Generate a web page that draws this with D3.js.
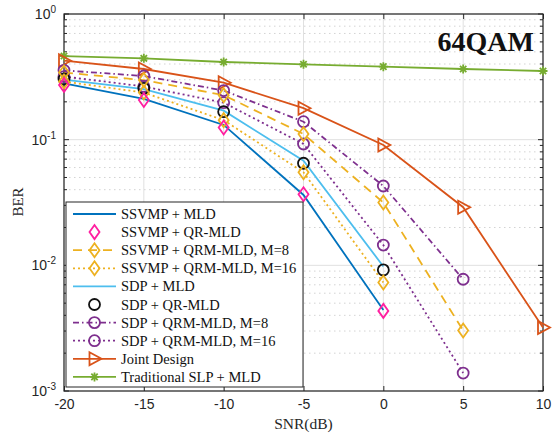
<!DOCTYPE html>
<html><head><meta charset="utf-8">
<script src="https://cdn.jsdelivr.net/npm/d3@7"></script>
<style>body{margin:0;background:#fff}svg{display:block}</style>
</head><body><svg id="c" width="556" height="434"></svg>
<script>
const snr = [-20, -15, -10, -5, 0, 5, 10];
const ssvmpMLD   = [0.280, 0.211, 0.131, 0.0363, 0.00442];
const ssvmpQR    = [0.272, 0.207, 0.125, 0.0368, 0.00434];
const ssvmpQRM8  = [0.342, 0.298, 0.226, 0.111, 0.0316, 0.00303];
const ssvmpQRM16 = [0.290, 0.237, 0.143, 0.055, 0.0073];
const sdpMLD     = [0.300, 0.252, 0.170, 0.068, 0.0098];
const sdpQR      = [0.304, 0.256, 0.167, 0.0649, 0.0092];
const sdpQRM8    = [0.356, 0.321, 0.246, 0.139, 0.0428, 0.00775];
const sdpQRM16   = [0.318, 0.265, 0.197, 0.0924, 0.0145, 0.00139];
const joint      = [0.425, 0.365, 0.284, 0.178, 0.0907, 0.029, 0.0032];
const tradSLP    = [0.463, 0.444, 0.415, 0.398, 0.381, 0.365, 0.352];
const xTicks = [-20, -15, -10, -5, 0, 5, 10];
const yTickExp = [0, -1, -2, -3];

const series = [
  {name:"SSVMP + MLD", data:ssvmpMLD, color:"#0072BD", dash:null, marker:null, line:true},
  {name:"SSVMP + QR-MLD", data:ssvmpQR, color:"#FF1FA0", dash:null, marker:"diamond", line:false},
  {name:"SSVMP + QRM-MLD, M=8", data:ssvmpQRM8, color:"#EDB120", dash:"9,6", marker:"diamond", line:true},
  {name:"SSVMP + QRM-MLD, M=16", data:ssvmpQRM16, color:"#EDB120", dash:"2,3", marker:"diamond", line:true},
  {name:"SDP + MLD", data:sdpMLD, color:"#4DBEEE", dash:null, marker:null, line:true},
  {name:"SDP + QR-MLD", data:sdpQR, color:"#111111", dash:null, marker:"circle", line:false},
  {name:"SDP + QRM-MLD, M=8", data:sdpQRM8, color:"#7E2F8E", dash:"6,3,1.5,3", marker:"circle", line:true},
  {name:"SDP + QRM-MLD, M=16", data:sdpQRM16, color:"#7E2F8E", dash:"2,3", marker:"circle", line:true},
  {name:"Joint Design", data:joint, color:"#D95319", dash:null, marker:"triangle", line:true},
  {name:"Traditional SLP + MLD", data:tradSLP, color:"#77AC30", dash:null, marker:"star", line:true}
];

const svg = d3.select("#c");
const L = 64, R = 543, T = 14, B = 391;
const x = d3.scaleLinear().domain([-20, 10]).range([L, R]);
const y = d3.scaleLog().domain([1e-3, 1]).range([B, T]);

// grid
const g = svg.append("g");
for (let e = -3; e < 0; e++) {
  for (let m = 2; m <= 9; m++) {
    const v = m * Math.pow(10, e);
    g.append("line").attr("x1", L).attr("x2", R).attr("y1", y(v)).attr("y2", y(v))
      .attr("stroke", "#c8c8c8").attr("stroke-width", 0.8).attr("stroke-dasharray", "1.5,3.5");
  }
}
yTickExp.forEach(e => {
  g.append("line").attr("x1", L).attr("x2", R).attr("y1", y(Math.pow(10, e))).attr("y2", y(Math.pow(10, e)))
    .attr("stroke", "#e0e0e0").attr("stroke-width", 1);
});
xTicks.forEach(t => {
  g.append("line").attr("x1", x(t)).attr("x2", x(t)).attr("y1", T).attr("y2", B)
    .attr("stroke", "#e0e0e0").attr("stroke-width", 1);
});

// axes
const xAxis = d3.axisBottom(x).tickValues(xTicks).tickSize(-5).tickPadding(8).tickFormat(d => d);
const ax = svg.append("g").attr("transform", `translate(0,${B})`).call(xAxis);
ax.select(".domain").remove();
ax.selectAll("line").attr("stroke", "#262626");
ax.selectAll("text").attr("font-family", "Liberation Sans, Arial, sans-serif").attr("font-size", 14).attr("fill", "#262626");
const xTop = svg.append("g").attr("transform", `translate(0,${T})`).call(d3.axisTop(x).tickValues(xTicks).tickSize(-5).tickFormat(""));
xTop.select(".domain").remove();
xTop.selectAll("line").attr("stroke", "#262626");

const minorVals = [];
for (let e = -3; e < 0; e++) for (let m = 2; m <= 9; m++) minorVals.push(m * Math.pow(10, e));
[[L, 1], [R, -1]].forEach(([px, dir]) => {
  yTickExp.forEach(e => {
    svg.append("line").attr("x1", px).attr("x2", px + dir * 5).attr("y1", y(Math.pow(10, e))).attr("y2", y(Math.pow(10, e))).attr("stroke", "#262626");
  });
  minorVals.forEach(v => {
    svg.append("line").attr("x1", px).attr("x2", px + dir * 3).attr("y1", y(v)).attr("y2", y(v)).attr("stroke", "#262626");
  });
});
yTickExp.forEach(e => {
  const t = svg.append("text").attr("x", L - 8).attr("y", y(Math.pow(10, e)) + 5)
    .attr("text-anchor", "end").attr("font-family", "Liberation Sans, Arial, sans-serif")
    .attr("font-size", 14).attr("fill", "#262626");
  t.append("tspan").text("10");
  t.append("tspan").attr("dy", -6).attr("font-size", 10).text(e);
});
svg.append("rect").attr("x", L).attr("y", T).attr("width", R - L).attr("height", B - T)
  .attr("fill", "none").attr("stroke", "#262626").attr("stroke-width", 1.2);

// markers
function drawMarker(sel, type, color, cx, cy) {
  if (type === "diamond") {
    sel.append("path").attr("d", `M${cx},${cy-7}L${cx+5},${cy}L${cx},${cy+7}L${cx-5},${cy}Z`)
      .attr("fill", "none").attr("stroke", color).attr("stroke-width", 1.8);
  } else if (type === "circle") {
    sel.append("circle").attr("cx", cx).attr("cy", cy).attr("r", 5.5)
      .attr("fill", "none").attr("stroke", color).attr("stroke-width", 1.8);
  } else if (type === "triangle") {
    sel.append("path").attr("d", `M${cx-5},${cy-6.5}L${cx+7},${cy}L${cx-5},${cy+6.5}Z`)
      .attr("fill", "none").attr("stroke", color).attr("stroke-width", 1.8);
  } else if (type === "star") {
    const r = 4.5;
    let d = "";
    for (let k = 0; k < 4; k++) {
      const a = k * Math.PI / 4;
      d += `M${cx - r*Math.cos(a)},${cy - r*Math.sin(a)}L${cx + r*Math.cos(a)},${cy + r*Math.sin(a)}`;
    }
    sel.append("path").attr("d", d).attr("stroke", color).attr("stroke-width", 1.8);
  }
}

const lineGen = d3.line().x((d, i) => x(snr[i])).y(d => y(d));
const plot = svg.append("g");
series.forEach(s => {
  if (s.line) {
    plot.append("path").attr("d", lineGen(s.data)).attr("fill", "none")
      .attr("stroke", s.color).attr("stroke-width", 1.8)
      .attr("stroke-dasharray", s.dash);
  }
});
series.slice().reverse().forEach(s => {
  if (s.marker) s.data.forEach((v, i) => drawMarker(plot, s.marker, s.color, x(snr[i]), y(v)));
});

// title
svg.append("text").attr("x", 534).attr("y", 51).attr("text-anchor", "end")
  .attr("font-family", "Liberation Serif, Times New Roman, serif").attr("font-weight", "bold")
  .attr("font-size", 28).attr("fill", "#111").text("64QAM");

// axis labels
svg.append("text").attr("x", (L + R) / 2).attr("y", 429).attr("text-anchor", "middle")
  .attr("font-family", "Liberation Serif, Times New Roman, serif").attr("font-size", 15.5).attr("fill", "#262626").text("SNR(dB)");
svg.append("text").attr("transform", "translate(23,202) rotate(-90)").attr("text-anchor", "middle")
  .attr("font-family", "Liberation Serif, Times New Roman, serif").attr("font-size", 15).attr("fill", "#262626").text("BER");

// legend
const lg = svg.append("g");
lg.append("rect").attr("x", 66).attr("y", 202).attr("width", 237).attr("height", 185)
  .attr("fill", "#fff").attr("stroke", "#262626").attr("stroke-width", 1);
series.forEach((s, i) => {
  const cy = 214 + i * 18.1;
  if (s.line) {
    lg.append("line").attr("x1", 73).attr("x2", 116).attr("y1", cy).attr("y2", cy)
      .attr("stroke", s.color).attr("stroke-width", 1.8).attr("stroke-dasharray", s.dash);
  }
  if (s.marker) drawMarker(lg, s.marker, s.color, 94.5, cy);
  lg.append("text").attr("x", 121).attr("y", cy + 5)
    .attr("font-family", "Liberation Serif, Times New Roman, serif").attr("font-size", 14.5)
    .attr("fill", "#111").text(s.name);
});
</script></body></html>
